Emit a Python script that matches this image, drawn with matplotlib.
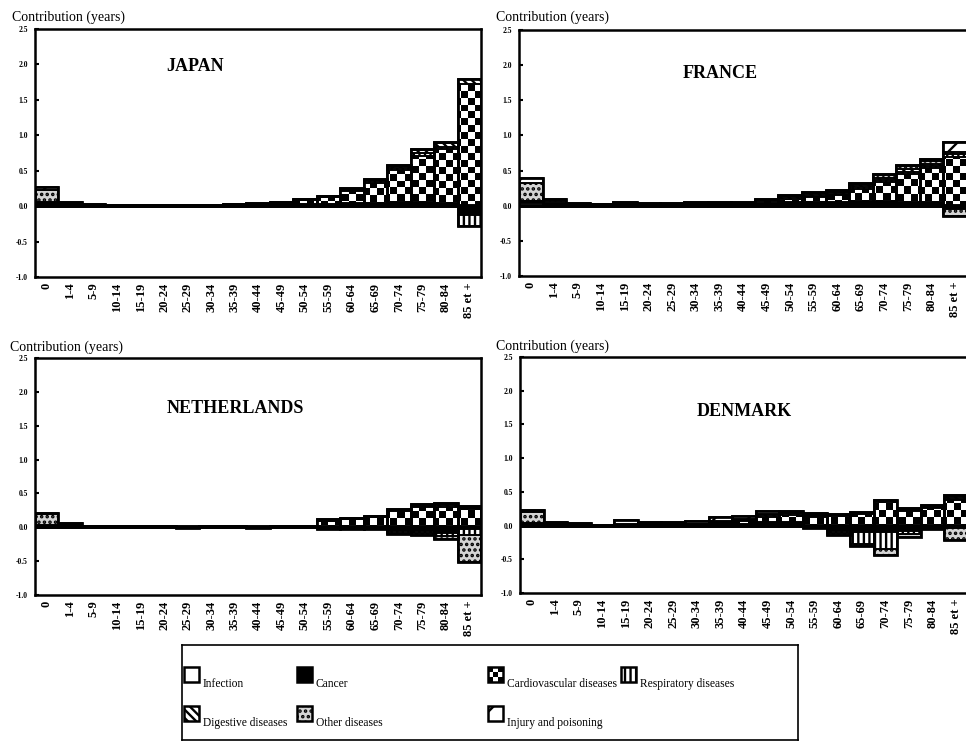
import numpy as np
import matplotlib.pyplot as plt
from matplotlib.patches import Rectangle

plt.rcParams['font.family'] = ['Liberation Serif', 'DejaVu Serif']
plt.rcParams['hatch.linewidth'] = 1.7

ages = ['0', '1-4', '5-9', '10-14', '15-19', '20-24', '25-29', '30-34', '35-39',
        '40-44', '45-49', '50-54', '55-59', '60-64', '65-69', '70-74', '75-79',
        '80-84', '85 et +']
causes = ['Infection', 'Cancer', 'Cardiovascular diseases', 'Respiratory diseases',
          'Digestive diseases', 'Other diseases', 'Injury and poisoning']

# contributions (years) by cause, rows in the order of `causes`
japan = [
    [0.03, 0.01, 0, 0, 0, 0, 0, 0, 0, 0, 0, 0, 0, 0, 0, 0, 0, 0, 0],
    [0.02, 0.01, 0.01, 0.005, 0.005, 0.005, 0.005, 0.01, 0.01, 0.015, 0.02, 0.03, 0.03, 0.04, 0.05, 0.06, 0.06, 0.05, -0.13],
    [0, 0, 0, 0, 0, 0, 0, 0.005, 0.01, 0.015, 0.03, 0.05, 0.10, 0.18, 0.28, 0.45, 0.65, 0.75, 1.72],
    [0.01, 0.005, 0, 0, 0, 0, 0, 0, 0, 0, 0, 0.005, 0.005, 0.01, 0.02, 0.03, 0.04, 0.04, -0.15],
    [0, 0, 0, 0, 0, 0, 0, 0, 0.005, 0.005, 0.005, 0.01, 0.01, 0.015, 0.02, 0.03, 0.04, 0.05, 0.08],
    [0.17, 0.02, 0.01, 0.005, 0.005, 0.005, 0, 0, 0, 0, 0, 0, 0, 0, 0, 0, 0, 0, 0],
    [0.04, 0.01, 0.01, 0.01, 0.01, 0.01, 0.005, 0.005, 0.005, 0.005, 0.005, 0.005, 0.005, 0.005, 0.01, 0.01, 0.01, 0.01, 0],
]
france = [
    [0.04, 0.01, 0, 0, 0, 0, 0, 0, 0, 0, 0, 0, 0, 0, 0, 0, 0, 0, 0],
    [0.02, 0.02, 0.01, 0.01, 0.01, 0.01, 0.01, 0.01, 0.02, 0.02, 0.04, 0.05, 0.05, 0.05, 0.06, 0.06, 0.05, 0.05, -0.05],
    [0, 0, 0, 0, 0, 0, 0, 0.005, 0.005, 0.01, 0.02, 0.05, 0.08, 0.10, 0.18, 0.28, 0.40, 0.48, 0.70],
    [0.01, 0.01, 0, 0, 0, 0, 0, 0, 0, 0, 0, 0, 0.01, 0.01, 0.02, 0.02, 0.03, 0.03, 0.03],
    [0, 0, 0, 0, 0, 0, 0.005, 0.01, 0.01, 0.01, 0.02, 0.03, 0.03, 0.03, 0.03, 0.04, 0.04, 0.04, 0.03],
    [0.26, 0.03, 0.01, 0.01, 0.01, 0.01, 0.01, 0.01, 0.005, 0.005, 0.005, 0.01, 0.01, 0.01, 0.02, 0.03, 0.04, 0.04, -0.10],
    [0.07, 0.02, 0.02, 0.01, 0.03, 0.02, 0.015, 0.015, 0.01, 0.005, 0.005, 0.01, 0.02, 0.02, 0.02, 0.02, 0.02, 0.02, 0.14],
]
netherlands = [
    [0.02, 0.01, 0, 0, 0, 0, 0, 0, 0, 0, 0, 0, 0, 0, 0, 0, 0, 0, 0],
    [0.01, 0.01, 0.005, 0.005, 0.005, 0.005, -0.01, 0.005, 0.005, -0.01, 0.005, 0.005, -0.02, -0.02, -0.02, -0.05, -0.06, -0.08, -0.03],
    [0, 0, 0, 0, 0, 0, 0, 0, 0, 0, 0, 0.005, 0.09, 0.12, 0.15, 0.24, 0.30, 0.30, 0.27],
    [0, 0, 0, 0, 0, 0, 0, 0, 0, 0, 0, 0, 0, 0, 0, -0.03, -0.03, -0.05, -0.09],
    [0, 0, 0, 0, 0, 0, 0, 0, 0, 0, 0, 0, 0.01, 0.01, 0.01, 0.02, 0.02, 0.03, 0.02],
    [0.16, 0.03, 0.005, 0.005, 0.01, 0.005, 0, 0.005, 0.005, 0, 0.005, 0.005, 0.01, 0.01, 0.01, -0.02, -0.03, -0.04, -0.39],
    [0.02, 0.02, 0.01, 0.01, 0.01, 0.01, 0.005, 0.005, 0.01, 0.005, 0.005, 0.005, 0.005, 0, 0, 0.01, 0.02, 0.03, 0.02],
]
denmark = [
    [0.02, 0.005, 0, 0, 0, 0, 0, 0, 0, 0, 0, 0, 0, 0, 0, 0, 0, 0, 0],
    [0.02, 0.01, 0.01, 0.005, 0.01, 0.01, 0.01, 0.01, 0.02, 0.03, 0.05, 0.06, -0.04, -0.08, -0.10, -0.10, -0.08, -0.03, -0.04],
    [0, 0, 0, 0, 0, 0, 0, 0, 0.02, 0.04, 0.08, 0.10, 0.12, 0.14, 0.17, 0.35, 0.22, 0.26, 0.38],
    [0, 0, 0, 0, 0, 0, 0, 0, 0, 0, 0, 0, 0, -0.03, -0.17, -0.25, -0.05, 0, 0.02],
    [0, 0, 0, 0, 0, 0, 0.005, 0.01, 0.02, 0.02, 0.03, 0.02, 0.02, 0.01, 0.01, 0.01, 0.01, 0.02, 0.02],
    [0.16, 0.02, 0.01, 0, 0.01, 0.01, 0.01, 0.01, 0.01, 0.01, 0.01, 0.01, 0.02, -0.03, -0.03, -0.09, -0.04, -0.02, -0.18],
    [0.03, 0.025, 0.02, 0.005, 0.07, 0.04, 0.035, 0.04, 0.05, 0.04, 0.05, 0.02, 0.03, 0.02, 0.02, 0.02, 0.03, 0.03, 0.04],
]

# (face colour, hatch) per cause; 'checker' = black/white check texture
styles = [
    ('white', None),
    ('black', None),
    ('white', 'checker'),
    ('white', '|||'),
    ('white', '\\\\\\\\'),
    ('#d4d4d4', '...'),
    ('white', '/'),
]

W, H = 966, 745
CELL = 7  # checker square, pixels
fig = plt.figure(figsize=(W / 100, H / 100), dpi=100)


def px_axes(left, top, right, bottom):
    return fig.add_axes([left / W, 1 - bottom / H, (right - left) / W, (bottom - top) / H])


def checker_fill(ax, patches, extent, w_px, h_px):
    nx, ny = int(w_px / CELL) + 1, int(h_px / CELL) + 1
    board = np.indices((ny, nx)).sum(axis=0) % 2
    for p in patches:
        im = ax.imshow(board, extent=extent, cmap='gray', vmin=0, vmax=1,
                       interpolation='nearest', aspect='auto', zorder=2.5)
        im.set_clip_path(p)


def draw_panel(ax, name, data, tx, ty):
    bb = ax.get_position()
    w_px, h_px = bb.width * W, bb.height * H
    x = np.arange(len(ages))
    xlim, ylim = (-0.5, len(ages) - 0.5), (-1.0, 2.5)
    pos_base = np.zeros(len(ages))
    neg_base = np.zeros(len(ages))
    for vals, (fc, hatch) in zip(data, styles):
        vals = np.array(vals, dtype=float)
        pos = np.where(vals > 0, vals, 0)
        neg = np.where(vals < 0, vals, 0)
        for v, base in ((pos, pos_base), (neg, neg_base)):
            m = v != 0
            if not m.any():
                continue
            h = None if hatch == 'checker' else hatch
            bars = ax.bar(x[m], v[m], 1.0, bottom=base[m], color=fc, hatch=h,
                          edgecolor='black', linewidth=0, zorder=2)
            if hatch == 'checker':
                checker_fill(ax, bars.patches, (*xlim, *ylim), w_px, h_px)
            ax.bar(x[m], v[m], 1.0, bottom=base[m], fill=False,
                   edgecolor='black', linewidth=1.2, zorder=3)
        pos_base += pos
        neg_base += neg
    for tot in (pos_base, neg_base):
        m = tot != 0
        ax.bar(x[m], tot[m], 1.0, fill=False, edgecolor='black', linewidth=2.0, zorder=4)
    ax.axhline(0, color='black', lw=2.8, zorder=5)

    ax.set_xlim(*xlim)
    ax.set_ylim(*ylim)
    yt = [-1.0, -0.5, 0.0, 0.5, 1.0, 1.5, 2.0, 2.5]
    ax.set_yticks(yt)
    ax.set_yticklabels([f'{v:.1f}' for v in yt], fontsize=5.5, fontweight='bold')
    ax.tick_params(axis='y', direction='in', length=3, width=1.5, pad=5)
    ax.set_xticks(x)
    ax.set_xticklabels(ages, rotation=90, fontsize=9, fontweight='bold')
    ax.tick_params(axis='x', length=0, pad=4)
    for s in ax.spines.values():
        s.set_linewidth(1.8)
    ax.text(tx, ty, name, transform=ax.transAxes, ha='center', va='center',
            fontsize=13, fontweight='bold')


ax1 = px_axes(35, 29, 481, 277)
ax2 = px_axes(519, 30, 967, 276)
ax3 = px_axes(35, 358, 481, 595)
ax4 = px_axes(520, 357, 968, 593)

draw_panel(ax1, 'JAPAN', japan, 0.36, 0.85)
draw_panel(ax2, 'FRANCE', france, 0.45, 0.825)
draw_panel(ax3, 'NETHERLANDS', netherlands, 0.45, 0.785)
draw_panel(ax4, 'DENMARK', denmark, 0.50, 0.77)

for px, py in ((12, 17), (496, 17), (10, 347), (496, 346)):
    fig.text(px / W, 1 - py / H, 'Contribution (years)', fontsize=10, va='center', ha='left')

# legend box drawn by hand
lx0, lx1, ly0, ly1 = 182, 798, 645, 740
lax = px_axes(lx0, ly0, lx1, ly1)
slots = [(184, 667), (297, 667), (488, 667), (621, 667),
         (184, 706), (297, 706), (488, 706)]
for (sx, sy), label, (fc, hatch) in zip(slots, causes, styles):
    h = None if hatch == 'checker' else hatch
    r = lax.add_patch(Rectangle((sx, sy), 15, 15, facecolor=fc, hatch=h,
                                edgecolor='black', linewidth=0, zorder=1))
    if hatch == 'checker':
        board = np.indices((3, 3)).sum(axis=0) % 2
        im = lax.imshow(board, extent=(sx, sx + 15, sy + 15, sy), cmap='gray',
                        vmin=0, vmax=1, interpolation='nearest', aspect='auto',
                        zorder=1.5)
        im.set_clip_path(r)
    lax.add_patch(Rectangle((sx, sy), 15, 15, fill=False, edgecolor='black',
                            linewidth=1.8, zorder=2))
    lax.text(sx + 19, sy + 17, label, fontsize=8.3, va='center', ha='left')
lax.set_xlim(lx0, lx1)
lax.set_ylim(ly1, ly0)
lax.set_xticks([])
lax.set_yticks([])
for s in lax.spines.values():
    s.set_linewidth(1.2)

fig.savefig('out.png', dpi=100)
